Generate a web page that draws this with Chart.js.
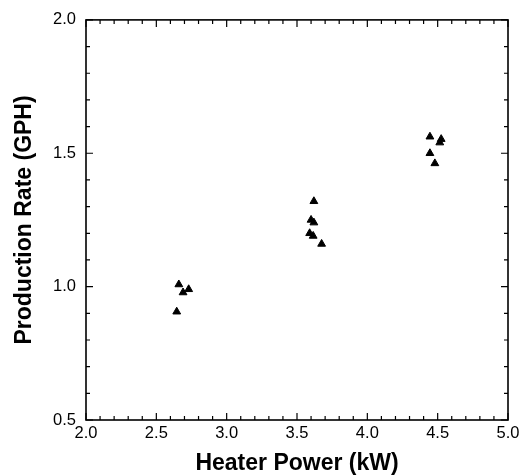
<!DOCTYPE html>
<html>
<head>
<meta charset="utf-8">
<script src="https://cdn.jsdelivr.net/npm/chart.js@4.4.1/dist/chart.umd.min.js"></script>
<style>
  html, body { margin: 0; padding: 0; background: #fff; }
  #wrap { width: 527px; height: 475px; position: relative; }
</style>
</head>
<body>
<div id="wrap"><canvas id="chart"></canvas></div>
<script>
// Heater power (kW) vs production rate (GPH)
const heaterPower    = [2.66, 2.69, 2.73, 2.645, 3.62, 3.60, 3.62, 3.59, 3.615, 3.675, 4.445, 4.525, 4.515, 4.445, 4.48];
const productionRate = [1.008, 0.978, 0.99, 0.906, 1.32, 1.25, 1.24, 1.20, 1.19, 1.16, 1.562, 1.553, 1.54, 1.50, 1.462];

const xTickLabels = ['2.0', '2.5', '3.0', '3.5', '4.0', '4.5', '5.0'];
const yTickLabels = ['0.5', '1.0', '1.5', '2.0'];

const FONT = "'Liberation Sans', Arial, sans-serif";

// frame + inward ticks on all four sides
const frameTicks = {
    id: 'frameTicks',
    afterDatasetsDraw(chart) {
        const { ctx, chartArea: a, scales: { x, y } } = chart;
        ctx.save();
        ctx.strokeStyle = '#000';
        ctx.lineWidth = 1.6;
        ctx.strokeRect(a.left, a.top, a.right - a.left, a.bottom - a.top);
        ctx.lineWidth = 1.2;
        ctx.beginPath();
        for (let i = 0; i <= 30; i++) {
            const v = x.min + i * 0.1;
            const px = x.getPixelForValue(v);
            const len = i % 5 === 0 ? 7 : 4;
            ctx.moveTo(px, a.bottom); ctx.lineTo(px, a.bottom - len);
            ctx.moveTo(px, a.top); ctx.lineTo(px, a.top + len);
        }
        for (let i = 0; i <= 15; i++) {
            const v = y.min + i * 0.1;
            const py = y.getPixelForValue(v);
            const len = i % 5 === 0 ? 7 : 4;
            ctx.moveTo(a.left, py); ctx.lineTo(a.left + len, py);
            ctx.moveTo(a.right, py); ctx.lineTo(a.right - len, py);
        }
        ctx.stroke();
        ctx.restore();
    }
};

new Chart(document.getElementById('chart'), {
    type: 'scatter',
    data: {
        datasets: [{
            data: heaterPower.map((x, i) => ({ x, y: productionRate[i] })),
            pointStyle: 'triangle',
            pointRadius: 4.5,
            pointBorderWidth: 1,
            backgroundColor: '#000',
            borderColor: '#000'
        }]
    },
    options: {
        responsive: true,
        maintainAspectRatio: false,
        animation: false,
        layout: { padding: { top: 18, right: 19, left: 0, bottom: 0 } },
        plugins: { legend: { display: false }, tooltip: { enabled: false } },
        scales: {
            x: {
                type: 'linear', min: 2, max: 5,
                grid: { display: false, drawTicks: false },
                border: { display: false },
                afterFit: s => { s.height = 55; },
                afterBuildTicks: s => { s.ticks = xTickLabels.map(t => ({ value: parseFloat(t) })); },
                ticks: {
                    padding: 4, color: '#000', font: { family: FONT, size: 16.5 },
                    callback: (v, i) => xTickLabels[i]
                },
                title: {
                    display: true, text: 'Heater Power (kW)', color: '#000',
                    font: { family: FONT, size: 23, weight: 'bold', lineHeight: 1 },
                    padding: { top: 0, bottom: 0 }
                }
            },
            y: {
                type: 'linear', min: 0.5, max: 2,
                grid: { display: false, drawTicks: false },
                border: { display: false },
                afterFit: s => { s.width = 86; },
                afterBuildTicks: s => { s.ticks = yTickLabels.map(t => ({ value: parseFloat(t) })); },
                ticks: {
                    padding: 10, color: '#000', font: { family: FONT, size: 16.5 },
                    callback: (v, i) => yTickLabels[i]
                },
                title: {
                    display: true, text: 'Production Rate (GPH)', color: '#000',
                    font: { family: FONT, size: 23, weight: 'bold', lineHeight: 1 },
                    padding: { top: 13, bottom: 0 }
                }
            }
        }
    },
    plugins: [frameTicks]
});
</script>
</body>
</html>
